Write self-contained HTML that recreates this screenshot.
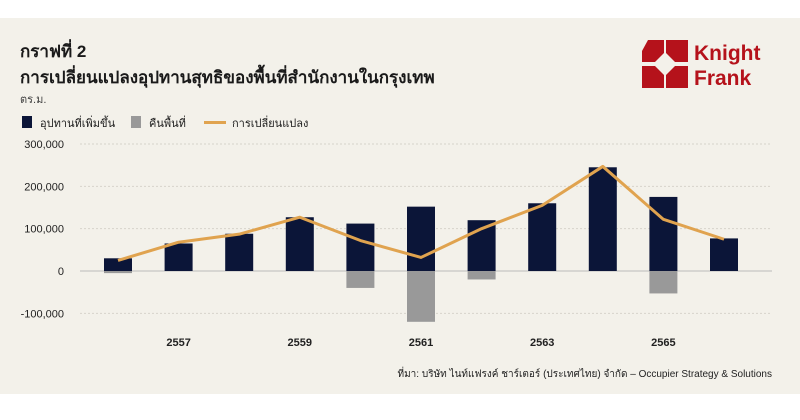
<!DOCTYPE html>
<html><head><meta charset="utf-8">
<style>
body{margin:0;background:#fff;font-family:"Liberation Sans","DejaVu Sans",sans-serif}
#wrap{position:relative;width:800px;height:420px;background:#fff;overflow:hidden}
#panel{position:absolute;left:0;top:18px;width:800px;height:376px;background:#f3f1ea}
.t{position:absolute;color:#1a1a1a;white-space:nowrap}
</style></head><body>
<div id="wrap">
<div id="panel"></div>
<div class="t" style="left:20px;top:38px;font-size:17px;font-weight:bold">กราฟที่ 2</div>
<div class="t" style="left:20px;top:64px;font-size:17px;font-weight:bold">การเปลี่ยนแปลงอุปทานสุทธิของพื้นที่สำนักงานในกรุงเทพ</div>
<div class="t" style="left:20px;top:90px;font-size:11px;color:#444">ตร.ม.</div>
<div>
<div style="position:absolute;left:22px;top:116px;width:10px;height:12px;background:#0b1538"></div>
<div class="t" style="left:40px;top:114px;font-size:11px">อุปทานที่เพิ่มขึ้น</div>
<div style="position:absolute;left:131px;top:116px;width:10px;height:12px;background:#999"></div>
<div class="t" style="left:149px;top:114px;font-size:11px">คืนพื้นที่</div>
<div style="position:absolute;left:204px;top:121px;width:22px;height:3px;background:#e0a34f"></div>
<div class="t" style="left:232px;top:114px;font-size:11px">การเปลี่ยนแปลง</div>
</div>
<svg style="position:absolute;left:642px;top:40px" width="135" height="50">
<g fill="#b5121b">
<rect x="0" y="0" width="22" height="22"/><rect x="24" y="0" width="22" height="22"/>
<rect x="0" y="26" width="22" height="22"/><rect x="24" y="26" width="22" height="22"/>
</g>
<g fill="#f3f1ea"><polygon points="11,24 23,12 35,24 23,36"/><polygon points="0,11 6,0 0,0"/></g>
<text x="52" y="20" font-size="21" font-weight="bold" fill="#b5121b" font-family="Liberation Sans">Knight</text>
<text x="52" y="45" font-size="21" font-weight="bold" fill="#b5121b" font-family="Liberation Sans">Frank</text>
</svg>
<svg id="chart" style="position:absolute;left:0;top:0" width="800" height="420"></svg>
<div class="t" style="right:28px;top:367px;font-size:10px;color:#222">ที่มา: บริษัท ไนท์แฟรงค์ ชาร์เตอร์ (ประเทศไทย) จำกัด – Occupier Strategy &amp; Solutions</div>
</div>
<script>
const years=[2556,2557,2558,2559,2560,2561,2562,2563,2564,2565,2566];
const supply=[30000,65000,88000,127000,112000,152000,120000,160000,245000,175000,77000];
const returned=[-5000,0,0,0,-40000,-120000,-20000,0,0,-53000,0];
const change=[25000,68000,87000,127000,72000,32000,100000,155000,247000,122000,75000];
const yTicks=[300000,200000,100000,0,-100000];
const xLabels=[2557,2559,2561,2563,2565];
const NS="http://www.w3.org/2000/svg";
const svg=document.getElementById('chart');
const y=v=>271-v*(127/300000);
const x=yr=>118+(yr-2556)*60.6;
function mk(t,a){const e=document.createElementNS(NS,t);for(const k in a)e.setAttribute(k,a[k]);svg.appendChild(e);return e;}
yTicks.forEach(v=>{
 if(v!==0){const g=mk('line',{x1:80,x2:772,y1:y(v),y2:y(v),stroke:'#d6d3cb','stroke-width':1,'stroke-dasharray':'2,2'});
 
 }
 const e=mk('text',{x:64,y:y(v)+4,'text-anchor':'end','font-size':11,fill:'#222','font-family':'Liberation Sans'});e.textContent=v.toLocaleString('en-US');

});
const ax=mk('line',{x1:80,x2:772,y1:y(0),y2:y(0),stroke:'#bbb','stroke-width':1});


xLabels.forEach(yr=>{const e=mk('text',{x:x(yr),y:346,'text-anchor':'middle','font-size':11,'font-weight':'bold',fill:'#222','font-family':'Liberation Sans'});e.textContent=yr;

});
const bw=28;
years.forEach((yr,i)=>{
 const b=mk('rect',{x:x(yr)-bw/2,y:y(supply[i]),width:bw,height:y(0)-y(supply[i]),fill:'#0b1538'});
 
 
 if(returned[i]<0){const g=mk('rect',{x:x(yr)-bw/2,y:y(0),width:bw,height:y(returned[i])-y(0),fill:'#999'});
 
 }
});
const ln=mk('polyline',{points:years.map((yr,i)=>x(yr)+','+y(change[i])).join(' '),fill:'none',stroke:'#e0a34f','stroke-width':3,'stroke-linejoin':'round'});


</script>
</body></html>
